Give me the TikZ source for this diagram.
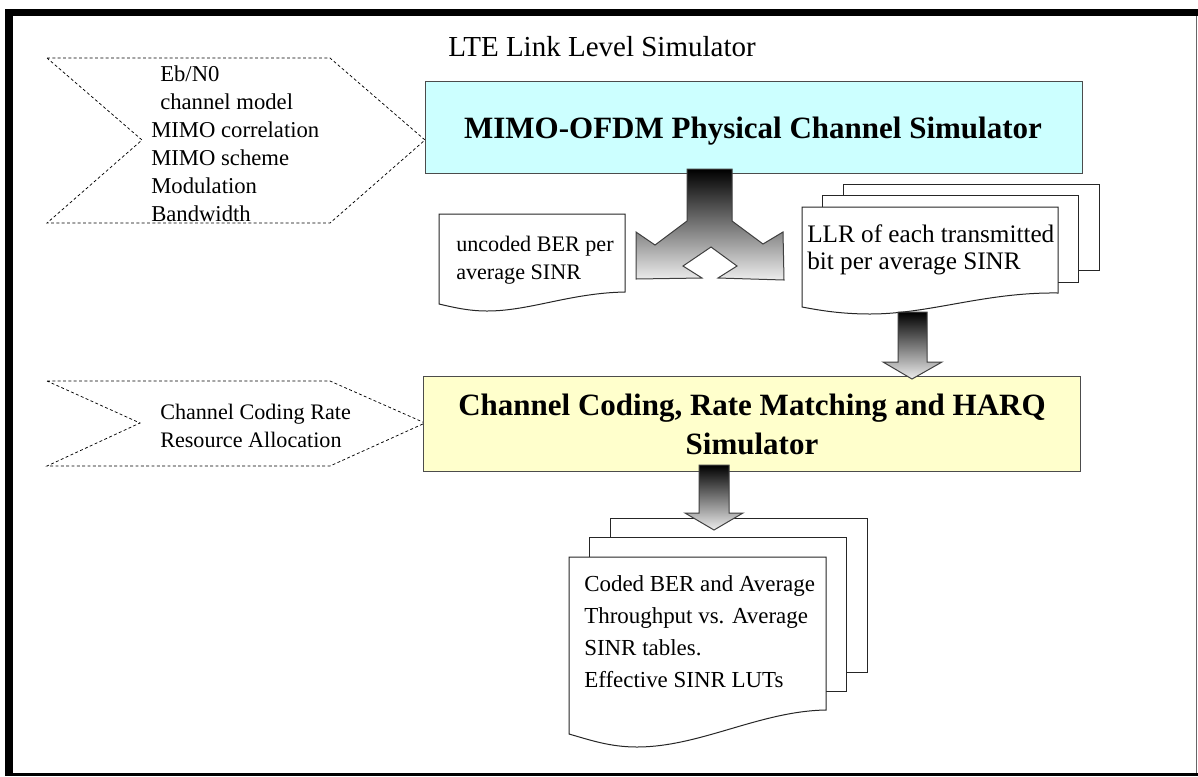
\documentclass[tikz,border=0pt]{standalone}
\usepackage{fontspec}
\setmainfont{Liberation Serif}
\definecolor{phyblue}{RGB}{204,255,255}
\definecolor{codyellow}{RGB}{255,255,204}
\begin{document}
\begin{tikzpicture}[x=0.75pt,y=-0.75pt,
  txt/.style={font=\fontsize{16.6}{21}\selectfont, inner sep=0pt, anchor=base west, align=left},
  chev/.style={draw=black, dash pattern=on 2.2pt off 1.8pt, line width=0.55pt},
  docsheet/.style={draw=black!85, line width=0.75pt, fill=white},
  blockarrow/.style={draw=black!75, line width=0.75pt, top color=black, bottom color=black!7},
  simbox/.style={draw=black!70, line width=1pt, inner sep=0pt, anchor=north west},
  boldtxt/.style={font=\bfseries\fontsize{23.25}{29}\selectfont, inner sep=0pt, align=center, anchor=base},
  ]
\useasboundingbox (0,0) rectangle (1198,776);
\fill[white] (0,0) rectangle (1198,776);
% outer frame
\fill[black] (5,9) rectangle (13,776);
\fill[black] (5,9) rectangle (1198,16);
\fill[black] (5,773) rectangle (1198,776);
\draw[black!60, line width=1.2pt] (1196.5,16) -- (1196.5,773);

% title
\node[font=\fontsize{21.75}{26}\selectfont, inner sep=0pt, anchor=base west] (title) at (448,56) {LTE Link Level Simulator};

% input chevrons
\draw[chev] (47,58) -- (330,58) -- (425,140) -- (330,223) -- (47,223) -- (142,140) -- cycle;
\node[txt, font=\fontsize{17}{21}\selectfont] (params1) at (151,221) {\hspace*{6.75pt}Eb/N0\\\hspace*{6.75pt}channel model\\MIMO correlation\\MIMO scheme\\Modulation\\Bandwidth};

\draw[chev] (47,381) -- (330,381) -- (425,423) -- (330,466) -- (47,466) -- (140,423) -- cycle;
\node[txt] (params2) at (160,447) {Channel Coding Rate\\Resource Allocation};

% physical channel simulator
\node[simbox, fill=phyblue, minimum width=492.75pt, minimum height=69pt] (phy) at (425,81) {};
\node[boldtxt] (phytxt) at (753,138) {MIMO-OFDM Physical Channel Simulator};

% coding simulator
\node[simbox, fill=codyellow, minimum width=492.75pt, minimum height=71.25pt] (cod) at (423,376) {};
\node[boldtxt] (codtxt) at (752,454) {Channel Coding, Rate Matching and HARQ\\Simulator};

% uncoded BER document
\draw[docsheet] (439,214) -- (625,214) -- (625,292) .. controls (570,293) and (530,311) .. (487,311) .. controls (468,311) and (452,307) .. (439,304) -- cycle;
\node[txt, font=\fontsize{16.6}{20.6}\selectfont] (ber) at (456,279) {uncoded BER per\\average SINR};

% LLR document stack
\draw[docsheet] (843,184) rectangle (1099,270);
\draw[docsheet] (822,195) rectangle (1078,282);
\draw[docsheet] (802,207) -- (1058,207) -- (1058,293) .. controls (985,292) and (930,314) .. (870,314) .. controls (840,314) and (818,310) .. (802,307) -- cycle;
\node[txt, font=\fontsize{18.9}{19.6}\selectfont] (llr) at (807,269) {LLR of each transmitted\\bit per average SINR};

% output document stack
\draw[docsheet] (610,518) rectangle (867,672);
\draw[docsheet] (589,537) rectangle (846,691);
\draw[docsheet] (569,557) -- (826,557) -- (826,710) .. controls (760,711) and (700,747) .. (637,747) .. controls (610,747) and (590,740) .. (569,734) -- cycle;
\node[txt, font=\fontsize{17.2}{24}\selectfont] (out) at (584,687) {Coded BER and Average\\Throughput vs. Average\\SINR tables.\\Effective SINR LUTs};

% block arrows
\path[blockarrow] (687,169) -- (732,169) -- (732,221) -- (763,244) -- (783,232) -- (784,280) -- (718,278) -- (737,266) -- (711,247) -- (683,266) -- (702,278) -- (636,279) -- (636,232) -- (655,245) -- (687,221) -- cycle;
\path[blockarrow] (898,312) -- (927,312) -- (927,362) -- (942,362) -- (912,379) -- (883,362) -- (898,362) -- cycle;
\path[blockarrow] (699,465) -- (729,465) -- (729,513) -- (743,513) -- (714,530) -- (685,513) -- (699,513) -- cycle;
\end{tikzpicture}
\end{document}
